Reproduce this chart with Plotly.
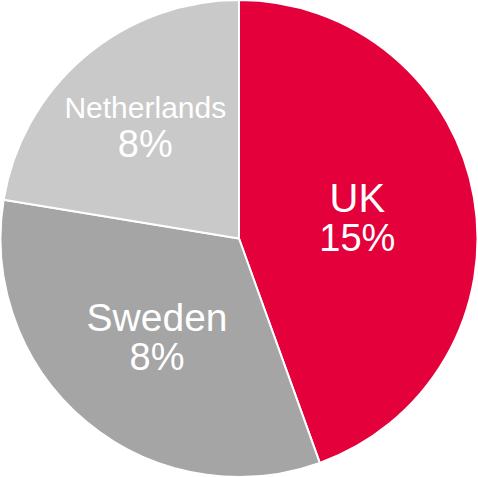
import plotly.graph_objects as go

countries = ["UK", "Sweden", "Netherlands"]
percent_labels = ["15%", "8%", "8%"]
slice_shares = [44.5, 33.1, 22.4]
colors = ["#E4003B", "#A5A5A5", "#C9C9C9"]
name_sizes = [40, 39, 30]
percent_sizes = [38, 38, 38]

texts = [
    f"<span style='font-size:{s}px'>{c}</span><br><span style='font-size:{ps}px'>{p}</span>"
    for c, p, s, ps in zip(countries, percent_labels, name_sizes, percent_sizes)
]

fig = go.Figure(
    go.Pie(
        labels=countries,
        values=slice_shares,
        text=texts,
        textinfo="text",
        textposition="inside",
        insidetextorientation="horizontal",
        hoverinfo="label+text",
        sort=False,
        direction="clockwise",
        rotation=0,
        marker=dict(colors=colors, line=dict(color="white", width=2)),
        textfont=dict(family="Liberation Sans, Arial, sans-serif", size=30, color="white"),
        showlegend=False,
    )
)

fig.update_layout(
    width=478,
    height=477,
    margin=dict(l=0, r=0, t=0, b=0),
    paper_bgcolor="white",
    plot_bgcolor="white",
)

fig.write_html(
    "out.html",
    config={"displayModeBar": False},
    post_script="document.body.style.margin='0';document.body.style.padding='0';",
)
